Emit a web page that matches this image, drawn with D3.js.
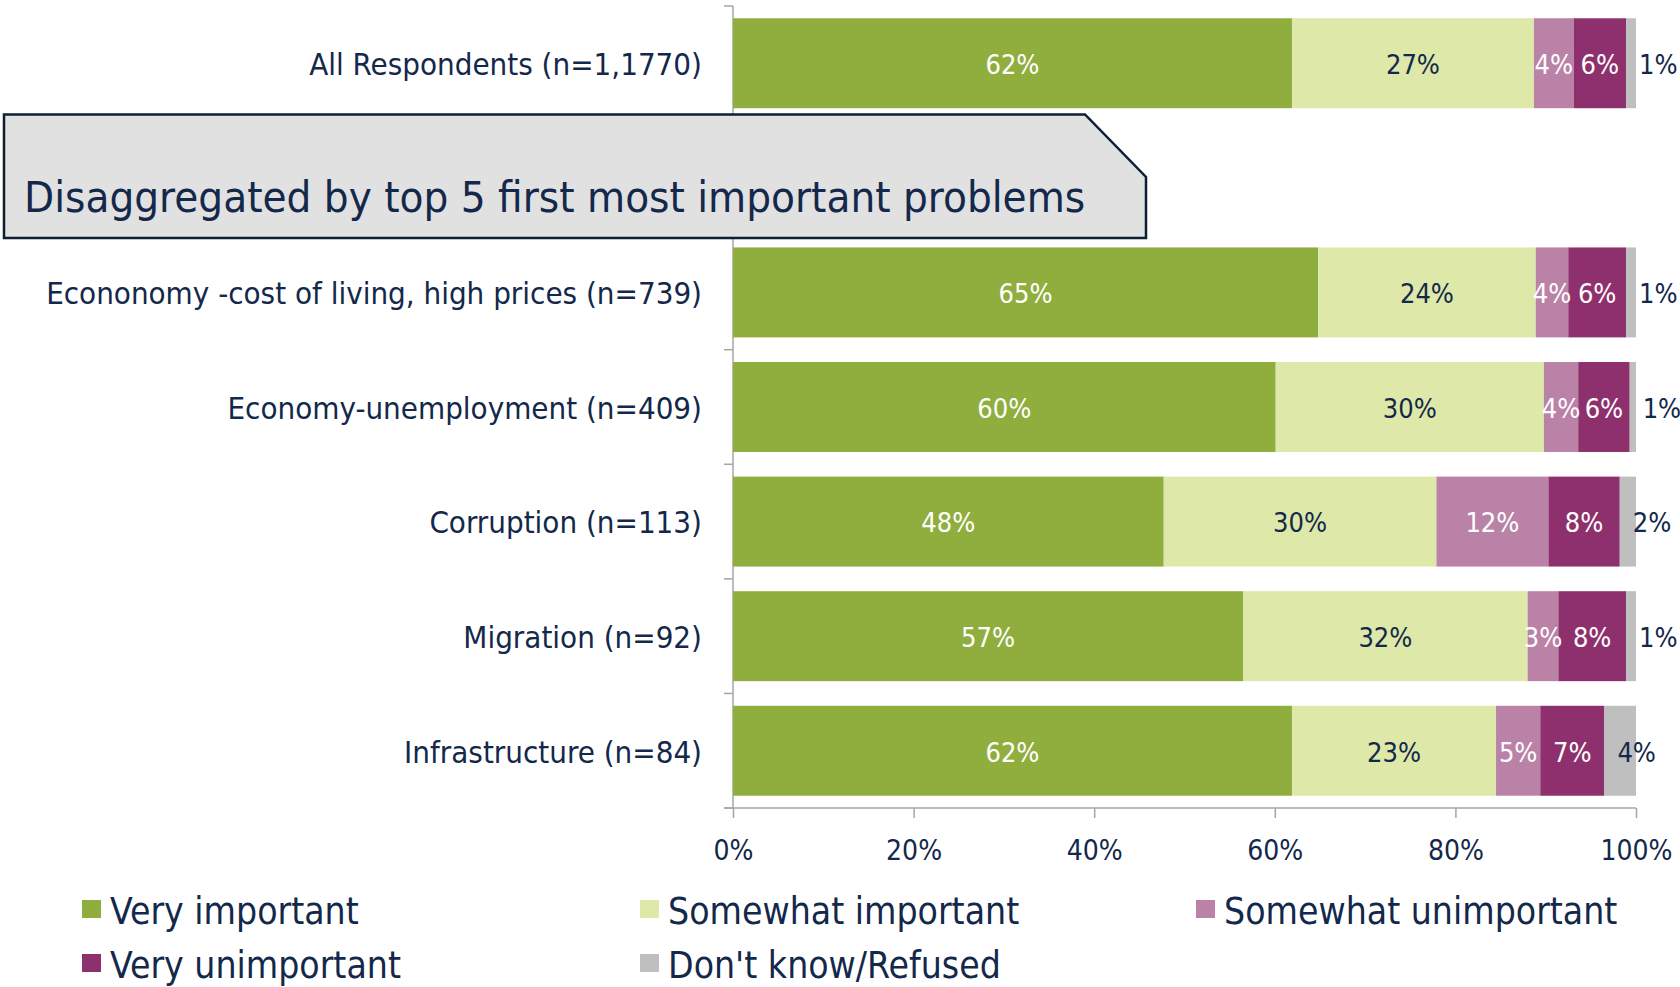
<!DOCTYPE html>
<html>
<head>
<meta charset="utf-8">
<script src="https://cdn.jsdelivr.net/npm/d3@7"></script>
<style>
  html, body { margin: 0; padding: 0; background: #ffffff; }
  svg { display: block; }
  text { font-family: "DejaVu Sans Condensed", "Liberation Sans Narrow", "Roboto Condensed", "DejaVu Sans", sans-serif; font-stretch: condensed; }
</style>
</head>
<body>
<svg id="chart" width="1680" height="987"></svg>
<script>
// ---------- DATA ----------
const categories = [
  "All Respondents (n=1,1770)",
  "Econonomy -cost of living, high prices (n=739)",
  "Economy-unemployment (n=409)",
  "Corruption (n=113)",
  "Migration (n=92)",
  "Infrastructure (n=84)"
];
const seriesNames = ["Very important", "Somewhat important", "Somewhat unimportant", "Very unimportant", "Don't know/Refused"];
const veryImportant       = [61.9, 64.8, 60.1, 47.7, 56.5, 61.9];
const somewhatImportant   = [26.8, 24.1, 29.7, 30.2, 31.5, 22.6];
const somewhatUnimportant = [4.4, 3.6, 3.8, 12.4, 3.4, 4.9];
const veryUnimportant     = [5.8, 6.4, 5.7, 7.9, 7.5, 7.1];
const dontKnow            = [1.1, 1.1, 0.7, 1.8, 1.1, 3.5];
const xTickValues = [0, 20, 40, 60, 80, 100];
const headerText = "Disaggregated by top 5 first most important problems";
const gapKey = "__gap__";

// ---------- STYLE ----------
const colors = ["#8fae3e", "#dde8a9", "#bb82a8", "#8e306d", "#bfbfbf"];
const labelColors = ["#ffffff", "#13284a", "#ffffff", "#ffffff", "#13284a"];
const navy = "#13284a";
const axisGray = "#a6a6a6";
const fontStack = '"DejaVu Sans Condensed", "Liberation Sans Narrow", "Roboto Condensed", "DejaVu Sans", sans-serif';

const seriesValues = [veryImportant, somewhatImportant, somewhatUnimportant, veryUnimportant, dontKnow];
const table = categories.map((c, i) => {
  const row = { category: c };
  seriesNames.forEach((s, j) => row[s] = seriesValues[j][i]);
  return row;
});
const stacked = d3.stack().keys(seriesNames)(table);

const svg = d3.select("#chart");
const x = d3.scaleLinear().domain([0, 100]).range([733, 1636]);
const yDomain = [categories[0], gapKey, ...categories.slice(1)];
const y = d3.scaleBand().domain(yDomain).range([6, 808]).paddingInner(0.215).paddingOuter(0.107);

// ---------- Y AXIS (line + ticks at band boundaries) ----------
const boundaries = yDomain.map(d => y(d) - y.step() * y.paddingInner() / 2);
boundaries[0] = 6;
boundaries.push(808);
const yAxisG = svg.append("g");
yAxisG.append("line")
  .attr("x1", x(0)).attr("x2", x(0)).attr("y1", 6).attr("y2", 808)
  .attr("stroke", axisGray).attr("stroke-width", 1.5);
yAxisG.selectAll("line.tick").data(boundaries).join("line")
  .attr("class", "tick")
  .attr("x1", x(0) - 9).attr("x2", x(0)).attr("y1", d => d).attr("y2", d => d)
  .attr("stroke", axisGray).attr("stroke-width", 1.5);

// ---------- X AXIS ----------
const xAxis = d3.axisBottom(x).tickValues(xTickValues).tickFormat(d => d + "%").tickSize(10).tickPadding(22);
const xg = svg.append("g").attr("transform", "translate(0,808)").call(xAxis);
xg.select(".domain").attr("stroke", axisGray).attr("stroke-width", 1.5).attr("d", `M${x(0) - 9},0H${x(100)}`);
xg.selectAll(".tick line").attr("stroke", axisGray).attr("stroke-width", 1.5);
xg.selectAll(".tick text").attr("fill", navy).attr("font-size", 28).style("font-family", fontStack);

// ---------- BARS ----------
const layers = svg.append("g").selectAll("g").data(stacked).join("g")
  .attr("fill", (d, i) => colors[i]);
layers.selectAll("rect").data(d => d).join("rect")
  .attr("x", d => x(d[0]))
  .attr("y", d => y(d.data.category))
  .attr("width", d => x(d[1]) - x(d[0]))
  .attr("height", y.bandwidth());

// ---------- VALUE LABELS ----------
stacked.forEach((layer, i) => {
  svg.append("g").selectAll("text").data(layer).join("text")
    .attr("x", d => i === 4 ? x(d[0]) + 13 : (x(d[0]) + x(d[1])) / 2)
    .attr("y", d => y(d.data.category) + y.bandwidth() / 2)
    .attr("dy", "0.4em")
    .attr("text-anchor", i === 4 ? "start" : "middle")
    .attr("fill", labelColors[i])
    .attr("font-size", 27)
    .text(d => Math.round(d[1] - d[0]) + "%");
});

// ---------- CATEGORY LABELS ----------
svg.append("g").selectAll("text").data(categories).join("text")
  .attr("x", 702)
  .attr("y", d => y(d) + y.bandwidth() / 2)
  .attr("dy", "0.38em")
  .attr("text-anchor", "end")
  .attr("fill", navy)
  .attr("font-size", 31)
  .text(d => d);

// ---------- HEADER BOX ----------
svg.append("path")
  .attr("d", "M4,114.5 L1085,114.5 L1146,177 L1146,238 L4,238 Z")
  .attr("fill", "#e1e1e1").attr("stroke", "#0f1f33").attr("stroke-width", 2.5);
svg.append("text")
  .attr("x", 24).attr("y", 196).attr("dy", "0.36em")
  .attr("fill", navy).attr("font-size", 43.5)
  .text(headerText);

// ---------- LEGEND ----------
const legendPos = [[82, 900], [640, 900], [1196, 900], [82, 954], [640, 954]];
const lg = svg.append("g").selectAll("g").data(seriesNames).join("g")
  .attr("transform", (d, i) => `translate(${legendPos[i][0]},${legendPos[i][1]})`);
lg.append("rect").attr("width", 19).attr("height", 18).attr("fill", (d, i) => colors[i]);
lg.append("text").attr("x", 28).attr("y", 11).attr("dy", "0.36em")
  .attr("fill", navy).attr("font-size", 37).text(d => d);
</script>
</body>
</html>
